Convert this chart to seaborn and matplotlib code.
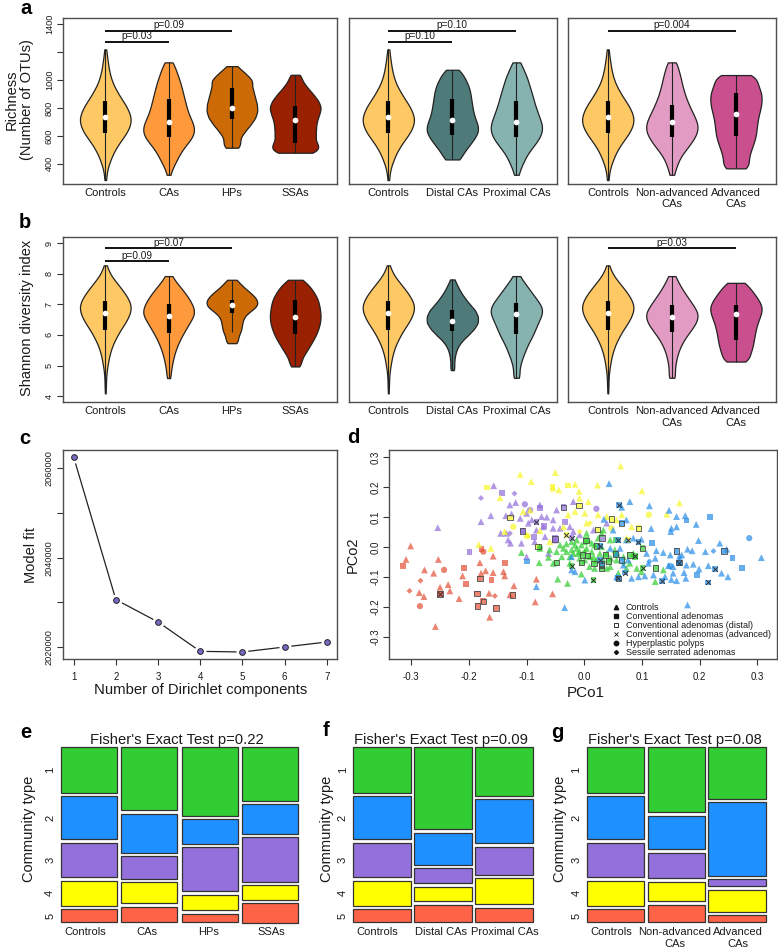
import numpy as np
import pandas as pd
import seaborn as sns
import matplotlib.pyplot as plt
from matplotlib.lines import Line2D

# violin profiles: value levels, relative density at each level
rich_controls_levels = [283, 320, 370, 420, 470, 520, 570, 620, 670, 720, 770, 820, 870, 920, 970, 1020, 1070, 1120, 1170, 1220]
rich_controls_counts = [2, 3, 7, 14, 22, 33, 47, 62, 72, 76, 70, 60, 46, 34, 23, 16, 11, 8, 5, 3]
rich_cas_levels = [321, 380, 430, 480, 530, 580, 630, 680, 730, 780, 830, 880, 930, 980, 1030, 1080, 1127]
rich_cas_counts = [6, 14, 24, 34, 48, 66, 75, 72, 62, 54, 49, 44, 39, 34, 27, 20, 11]
rich_hps_levels = [515, 540, 580, 630, 680, 730, 780, 830, 880, 930, 980, 1020, 1060, 1100]
rich_hps_counts = [14, 16, 22, 38, 55, 70, 76, 74, 68, 63, 56, 42, 28, 12]
rich_ssas_levels = [479, 510, 550, 600, 650, 700, 750, 800, 850, 900, 950, 1000, 1038]
rich_ssas_counts = [42, 50, 57, 60, 60, 62, 69, 76, 68, 52, 34, 18, 11]
rich_distal_levels = [431, 480, 530, 580, 630, 680, 730, 780, 830, 880, 930, 980, 1030, 1074]
rich_distal_counts = [22, 32, 48, 63, 75, 73, 64, 59, 56, 53, 50, 43, 32, 16]
rich_proximal_levels = [321, 380, 430, 480, 530, 580, 630, 680, 730, 780, 830, 880, 930, 980, 1030, 1080, 1127]
rich_proximal_counts = [8, 15, 23, 34, 50, 65, 74, 74, 66, 59, 52, 47, 41, 35, 29, 19, 11]
rich_nonadv_levels = [321, 380, 430, 480, 530, 580, 630, 680, 730, 780, 830, 880, 930, 980, 1030, 1080, 1127]
rich_nonadv_counts = [8, 14, 20, 33, 49, 63, 73, 74, 66, 56, 47, 39, 33, 28, 24, 18, 12]
rich_adv_levels = [367, 400, 450, 500, 550, 600, 650, 700, 750, 800, 850, 900, 950, 1000, 1036]
rich_adv_counts = [28, 32, 38, 44, 52, 58, 60, 62, 66, 72, 75, 75, 67, 55, 42]

shan_controls_levels = [4.09, 4.3, 4.5, 4.7, 4.9, 5.1, 5.3, 5.5, 5.7, 5.9, 6.1, 6.3, 6.5, 6.7, 6.9, 7.1, 7.3, 7.5, 7.7, 7.9, 8.1, 8.27]
shan_controls_counts = [1, 2, 2, 3, 5, 8, 11, 16, 22, 31, 40, 52, 63, 71, 75, 70, 60, 47, 33, 19, 9, 3]
shan_cas_levels = [4.59, 4.7, 4.9, 5.1, 5.3, 5.5, 5.7, 5.9, 6.1, 6.3, 6.5, 6.7, 6.9, 7.1, 7.3, 7.5, 7.7, 7.92]
shan_cas_counts = [3, 5, 8, 11, 15, 20, 27, 35, 45, 55, 66, 75, 72, 63, 52, 38, 24, 12]
shan_hps_levels = [5.73, 5.85, 6.0, 6.15, 6.3, 6.45, 6.6, 6.75, 6.9, 7.05, 7.2, 7.35, 7.5, 7.65, 7.8]
shan_hps_counts = [13, 16, 21, 27, 29, 31, 36, 50, 70, 76, 70, 57, 40, 26, 14]
shan_ssas_levels = [4.97, 5.05, 5.2, 5.4, 5.6, 5.8, 6.0, 6.2, 6.4, 6.6, 6.8, 7.0, 7.2, 7.4, 7.6, 7.8]
shan_ssas_counts = [8, 10, 17, 30, 41, 52, 62, 69, 74, 76, 74, 71, 66, 55, 43, 22]
shan_distal_levels = [4.85, 5.0, 5.2, 5.4, 5.6, 5.8, 6.0, 6.2, 6.4, 6.6, 6.8, 7.0, 7.2, 7.4, 7.6, 7.81]
shan_distal_counts = [4, 5, 6, 9, 15, 27, 46, 63, 74, 74, 66, 50, 36, 24, 15, 7]
shan_proximal_levels = [4.6, 4.7, 4.9, 5.1, 5.3, 5.5, 5.7, 5.9, 6.1, 6.3, 6.5, 6.7, 6.9, 7.1, 7.3, 7.5, 7.7, 7.92]
shan_proximal_counts = [6, 7, 9, 13, 19, 26, 33, 43, 51, 58, 66, 74, 74, 62, 49, 36, 24, 12]
shan_nonadv_levels = [4.6, 4.7, 4.9, 5.1, 5.3, 5.5, 5.7, 5.9, 6.1, 6.3, 6.5, 6.7, 6.9, 7.1, 7.3, 7.5, 7.7, 7.92]
shan_nonadv_counts = [6, 7, 9, 11, 15, 20, 28, 38, 51, 64, 73, 75, 65, 53, 41, 29, 20, 12]
shan_adv_levels = [5.13, 5.3, 5.5, 5.7, 5.9, 6.1, 6.3, 6.5, 6.7, 6.9, 7.1, 7.3, 7.5, 7.7]
shan_adv_counts = [28, 37, 45, 49, 52, 55, 59, 65, 72, 75, 67, 55, 42, 27]

# whisker low, q1, median, q3, whisker high
rich_controls_box = [283, 622, 733, 849, 1220]
rich_cas_box = [321, 594, 701, 861, 1127]
rich_hps_box = [515, 718, 799, 943, 1100]
rich_ssas_box = [479, 551, 715, 813, 1038]
rich_distal_box = [431, 606, 711, 864, 1074]
rich_proximal_box = [321, 594, 701, 852, 1127]
rich_nonadv_box = [321, 594, 701, 821, 1127]
rich_adv_box = [367, 601, 754, 907, 1036]
shan_controls_box = [4.09, 6.16, 6.73, 7.12, 8.27]
shan_cas_box = [4.59, 6.07, 6.63, 7.0, 7.92]
shan_hps_box = [6.09, 6.71, 6.98, 7.13, 7.8]
shan_ssas_box = [4.97, 6.04, 6.58, 7.13, 7.8]
shan_distal_box = [4.85, 6.14, 6.47, 6.8, 7.81]
shan_proximal_box = [4.6, 6.04, 6.68, 7.04, 7.92]
shan_nonadv_box = [4.6, 6.09, 6.58, 6.99, 7.92]
shan_adv_box = [5.13, 5.84, 6.69, 6.97, 7.7]

colors = {'Controls': '#FEC864', 'CAs': '#FE9A3B', 'HPs': '#CC6A05', 'SSAs': '#992000',
          'Distal CAs': '#4F7A7A', 'Proximal CAs': '#86B2B0',
          'Non-advanced\nCAs': '#E29CC3', 'Advanced\nCAs': '#C94F8E'}

# panel c
dirichlet_k = [1, 2, 3, 4, 5, 6, 7]
model_fit = [2062460, 2030600, 2025600, 2019030, 2018880, 2020000, 2021120]

# panel d, (PCo1, PCo2) by community type and marker
red_tri = [(-.301, .004), (-.309, -.041), (-.277, -.076), (-.261, -.087), (-.253, -.041), (-.286, -.152), (-.278, -.165),
           (-.25, -.134), (-.236, -.125), (-.233, -.146), (-.217, -.172), (-.258, -.265), (-.181, -.052), (-.179, -.087),
           (-.171, -.079), (-.211, -.096), (-.158, -.085), (-.158, -.03), (-.14, -.082), (-.138, -.096), (-.122, -.129),
           (-.165, -.154), (-.083, -.107), (-.085, -.183), (-.055, -.156), (-.164, -.234), (-.129, -.159)]
red_sq = [(-.314, -.063), (-.209, -.07), (-.205, -.124), (-.161, -.11), (-.138, -.052), (-.178, -.006)]
red_open = [(-.181, -.105), (-.186, -.155), (-.175, -.181), (-.185, -.197), (-.153, -.203), (-.124, -.16), (-.25, -.157)]
red_x = [(-.25, -.157)]
red_circ = [(-.243, -.076), (-.285, -.197), (-.175, -.015)]
red_dia = [(-.284, -.112), (-.303, -.146), (-.155, -.163)]

purple_tri = [(-.254, .065), (-.157, .205), (-.179, .085), (-.162, .105), (-.136, .105), (-.129, .141), (-.119, .149),
              (-.126, .111), (-.145, .046), (-.135, .046), (-.132, .024), (-.128, .013), (-.111, .096), (-.1, .113),
              (-.091, .091), (-.077, .141), (-.074, .102), (-.065, .1), (-.054, .091), (-.048, .124), (-.1, -.032),
              (-.083, .057), (-.097, .08), (-.086, .018), (-.054, .063), (-.042, .063), (-.068, .035), (-.051, .024),
              (-.025, .068), (-.019, .152), (-.019, .052), (-.008, .041), (.016, .057), (-.071, .068), (-.109, .013),
              (-.062, -.021), (.039, .08)]
purple_sq = [(-.199, -.015), (-.143, .182), (-.107, .054), (-.07, .071), (-.077, .13), (-.087, .033), (-.051, .03), (-.034, .085)]
purple_open = [(-.036, .133), (-.107, .054), (-.051, .027), (.031, .03)]
purple_x = [(-.083, .083), (-.022, .03)]
purple_circ = [(-.103, .143), (.021, .128), (-.094, .124)]
purple_dia = [(-.179, .164), (-.121, .179), (-.129, .046)]

yellow_tri = [(-.111, .243), (-.092, .219), (-.05, .249), (.063, .271), (-.016, .21), (.023, .207), (.1, .188), (.165, .148),
              (-.044, .191), (-.054, .197), (-.009, .186), (-.008, .163), (-.146, .165), (-.106, .119), (-.094, .124),
              (-.183, .009), (-.162, -.004), (-.138, .052), (.001, .113), (.024, .108), (.007, .152), (-.028, .108),
              (-.016, .119), (.039, .102), (.065, .108), (.082, .068), (.073, .03), (-.077, .055), (-.1, .041), (-.06, .018),
              (-.036, .068), (.004, .08), (.056, .091), (.143, .11)]
yellow_sq = [(-.168, .199), (-.028, .206), (-.055, .2)]
yellow_open = [(-.129, .099), (-.009, .139), (.047, .094), (.094, .063), (.023, .058), (-.08, .002)]
yellow_x = [(.075, .024), (-.031, .041)]
yellow_circ = [(.112, .108), (-.123, .068), (.047, .063), (-.098, .037)]
yellow_dia = [(-.008, .052), (.01, .08)]

green_tri = [(-.042, .007), (-.031, .011), (-.022, .018), (-.013, -.004), (.001, .018), (.013, .013), (.024, .03), (.03, .046),
             (.045, .024), (-.008, -.015), (-.019, -.021), (-.031, -.015), (-.048, -.015), (-.06, -.009), (-.077, -.004),
             (-.078, -.052), (-.109, -.018), (-.054, -.054), (-.046, -.107), (-.029, -.121), (-.005, -.09), (.009, -.065),
             (.018, -.071), (.033, -.043), (.045, -.065), (.056, -.043), (.068, -.032), (.079, -.054), (.091, -.071),
             (.099, -.082), (.123, -.115), (.137, -.076), (-.008, -.037), (-.025, -.032), (.001, -.043), (.013, -.015),
             (.021, -.043), (.039, -.021), (.053, -.009), (.085, -.021), (-.036, -.004), (-.013, .024), (.004, -.004),
             (.016, -.032), (-.025, -.054), (-.062, -.034), (.004, .046), (.033, .057), (.03, .002), (.059, -.087),
             (-.016, .007), (-.005, .007), (.007, .024), (.018, .007), (-.022, -.009), (-.011, -.021), (.01, -.032),
             (.027, -.021), (.046, -.037), (.073, -.071), (.039, -.071), (-.039, -.032)]
green_sq = [(.055, .024), (.088, -.034)]
green_open = [(-.003, -.026), (.006, -.028), (-.005, -.052), (.017, -.054), (.037, -.026), (.042, -.046), (.054, -.023),
              (.079, -.026), (.101, -.004), (.124, -.069), (-.048, -.052), (.03, -.062), (.021, .004), (.03, -.071), (.003, .023)]
green_x = [(-.022, -.062), (.016, -.11), (.088, -.03), (.101, -.07)]
green_circ = [(-.077, -.002), (.056, -.026)]
green_dia = [(.001, -.015), (.068, -.054)]

blue_tri = [(.043, .212), (.065, .133), (.079, .152), (.113, .138), (.147, .123), (.16, .102), (.175, .105), (.194, .076),
            (.151, .063), (.16, .068), (.15, .052), (.116, .062), (.034, .093), (.073, .091), (.198, .022), (.235, .013),
            (.247, -.007), (.307, -.035), (.179, -.007), (.187, -.012), (.21, -.015), (.177, -.06), (.215, -.062),
            (.199, -.073), (.189, -.057), (.173, -.085), (.176, -.104), (.238, -.087), (.249, -.099), (.149, -.026),
            (.165, -.03), (.169, -.026), (.137, -.018), (.125, -.012), (.108, -.021), (.154, -.065), (.146, -.062),
            (.151, -.108), (.16, -.112), (.12, -.093), (.105, -.096), (.094, -.099), (.082, -.104), (.001, -.11),
            (-.016, -.082), (-.022, -.076), (-.034, -.202), (-.083, -.132), (.179, -.193), (.045, -.004), (.062, -.004),
            (.056, -.021), (.076, -.043), (.068, -.06), (.056, -.099), (.085, .03), (.099, .026), (.111, -.054),
            (.123, -.037), (.165, -.043), (-.022, -.032), (.073, .024), (.05, .057), (.154, -.087), (.14, -.099)]
blue_sq = [(.177, .089), (.218, .101), (.196, -.094), (.257, -.037), (.273, -.069), (.117, .015), (-.099, -.048)]
blue_open = [(.16, -.013), (.242, -.013), (.164, -.052), (.065, .08), (.065, -.043), (.059, -.104), (.03, -.056)]
blue_x = [(.06, .14), (.227, -.072), (.215, -.118), (.135, -.112), (.071, -.085), (.027, -.043), (.059, .024), (.027, .004),
          (.094, .018), (.164, -.052), (.059, -.104)]
blue_circ = [(.286, .03), (.149, -.063)]
blue_dia = [(.224, -.013), (.113, -.048)]

legend_labels = ['Controls', 'Conventional adenomas', 'Conventional adenomas (distal)',
                 'Conventional adenomas (advanced)', 'Hyperplastic polyps', 'Sessile serrated adenomas']

# panels e-g, share of each community type (percent), types 1-5
comm_controls = [28.2, 26.8, 21.4, 15.3, 8.2]
comm_cas = [39.1, 24.2, 13.8, 13.2, 9.7]
comm_hps = [42.5, 15.1, 27.4, 9.7, 5.2]
comm_ssas = [33.4, 18.3, 27.4, 9.2, 11.9]
comm_distal = [50.8, 20.0, 9.3, 9.1, 10.9]
comm_proximal = [30.1, 27.4, 17.3, 16.1, 9.1]
comm_nonadv = [40.3, 20.8, 15.8, 12.3, 10.7]
comm_adv = [32.0, 45.4, 4.5, 13.6, 4.5]
comm_colors = ['#32CD32', '#1E90FF', '#9370DB', '#FFFF00', '#FF6347']

sns.set_theme(style='ticks')
plt.rcParams['font.family'] = ['Liberation Sans', 'DejaVu Sans']
plt.rcParams['axes.unicode_minus'] = False
plt.rcParams['axes.edgecolor'] = '#4d4d4d'
plt.rcParams['axes.linewidth'] = 1.0
plt.rcParams['xtick.color'] = '#333333'
plt.rcParams['ytick.color'] = '#333333'
plt.rcParams['text.color'] = '#1a1a1a'
plt.rcParams['xtick.labelcolor'] = '#1a1a1a'
plt.rcParams['ytick.labelcolor'] = '#1a1a1a'

W, H = 778, 952
fig = plt.figure(figsize=(W / 100, H / 100), dpi=100)


def box(left, top, right, bottom):
    return fig.add_axes([left / W, 1 - bottom / H, (right - left) / W, (bottom - top) / H])


def label(x, y, s, size=10.5, **kw):
    fig.text(x / W, 1 - y / H, s, fontsize=size, ha='center', va='center', **kw)


def rotate_y(ax, size=6.6):
    ax.tick_params(axis='y', length=4, width=0.8, pad=2.5, labelsize=size, labelrotation=90)
    for t in ax.get_yticklabels():
        t.set_va('center')


def violins(ax, names, levels, counts, boxes, xlim, ylim, yticks, ylabels):
    df = pd.DataFrame({'group': np.concatenate([np.repeat(n, sum(c)) for n, c in zip(names, counts)]),
                       'value': np.concatenate([np.repeat(v, c) for v, c in zip(levels, counts)])})
    sns.violinplot(data=df, x='group', y='value', hue='group', order=names, hue_order=names, palette=colors,
                   legend=False, saturation=1, cut=0, bw_method=0.2, density_norm='width', width=0.8,
                   linewidth=0.9, linecolor='#222222', inner=None, ax=ax)
    pos = list(range(len(names)))
    ax.vlines(pos, [b[0] for b in boxes], [b[4] for b in boxes], color='#222222', lw=0.8, zorder=3)
    ax.vlines(pos, [b[1] for b in boxes], [b[3] for b in boxes], color='black', lw=3.0, zorder=4)
    sns.scatterplot(x=pos, y=[b[2] for b in boxes], color='white', s=17, linewidth=0, zorder=6, ax=ax, legend=False)
    ax.set_xlim(*xlim)
    ax.set_ylim(*ylim)
    ax.set_xlabel('')
    ax.set_ylabel('')
    ax.set_yticks(yticks, ylabels)
    ax.tick_params(axis='x', length=0, pad=3, labelsize=8)
    rotate_y(ax)


def pbar(ax, x0, x1, y, ytext, s):
    ax.plot([x0, x1], [y, y], color='#111111', lw=1.4, solid_capstyle='butt')
    ax.text((x0 + x1) / 2, ytext, s, fontsize=7.2, ha='center', va='center')


rich_ticks = [400, 600, 800, 1000, 1200, 1400]
rich_labels = ['400', '600', '800', '1000', '', '1400']
shan_ticks = [4, 5, 6, 7, 8, 9]
shan_labels = ['4', '5', '6', '7', '8', '9']
rich_lim = (257, 1443)
shan_lim = (3.8, 9.196)

names_a = ['Controls', 'CAs', 'HPs', 'SSAs']
names_b = ['Controls', 'Distal CAs', 'Proximal CAs']
names_c = ['Controls', 'Non-advanced\nCAs', 'Advanced\nCAs']

# panel a
ax = box(63, 18.3, 337, 183.7)
violins(ax, names_a, [rich_controls_levels, rich_cas_levels, rich_hps_levels, rich_ssas_levels],
        [rich_controls_counts, rich_cas_counts, rich_hps_counts, rich_ssas_counts],
        [rich_controls_box, rich_cas_box, rich_hps_box, rich_ssas_box], (-0.668, 3.66), rich_lim, rich_ticks, rich_labels)
pbar(ax, 0, 1, 1272, 1318, 'p=0.03')
pbar(ax, 0, 2, 1353, 1394, 'p=0.09')
ax = box(349, 18.3, 556.7, 183.7)
violins(ax, names_b, [rich_controls_levels, rich_distal_levels, rich_proximal_levels],
        [rich_controls_counts, rich_distal_counts, rich_proximal_counts],
        [rich_controls_box, rich_distal_box, rich_proximal_box], (-0.614, 2.63), rich_lim, rich_ticks, rich_labels)
ax.set_yticks([])
pbar(ax, 0, 1, 1272, 1318, 'p=0.10')
pbar(ax, 0, 2, 1353, 1394, 'p=0.10')
ax = box(567.7, 18.3, 776, 183.7)
violins(ax, names_c, [rich_controls_levels, rich_nonadv_levels, rich_adv_levels],
        [rich_controls_counts, rich_nonadv_counts, rich_adv_counts],
        [rich_controls_box, rich_nonadv_box, rich_adv_box], (-0.625, 2.625), rich_lim, rich_ticks, rich_labels)
ax.set_yticks([])
pbar(ax, 0, 2, 1353, 1394, 'p=0.004')

# panel b
ax = box(63, 237, 337, 402.3)
violins(ax, names_a, [shan_controls_levels, shan_cas_levels, shan_hps_levels, shan_ssas_levels],
        [shan_controls_counts, shan_cas_counts, shan_hps_counts, shan_ssas_counts],
        [shan_controls_box, shan_cas_box, shan_hps_box, shan_ssas_box], (-0.668, 3.66), shan_lim, shan_ticks, shan_labels)
pbar(ax, 0, 1, 8.42, 8.59, 'p=0.09')
pbar(ax, 0, 2, 8.83, 8.99, 'p=0.07')
ax = box(349, 237, 556.7, 402.3)
violins(ax, names_b, [shan_controls_levels, shan_distal_levels, shan_proximal_levels],
        [shan_controls_counts, shan_distal_counts, shan_proximal_counts],
        [shan_controls_box, shan_distal_box, shan_proximal_box], (-0.614, 2.63), shan_lim, shan_ticks, shan_labels)
ax.set_yticks([])
ax = box(567.7, 237, 776, 402.3)
violins(ax, names_c, [shan_controls_levels, shan_nonadv_levels, shan_adv_levels],
        [shan_controls_counts, shan_nonadv_counts, shan_adv_counts],
        [shan_controls_box, shan_nonadv_box, shan_adv_box], (-0.625, 2.625), shan_lim, shan_ticks, shan_labels)
ax.set_yticks([])
pbar(ax, 0, 2, 8.83, 8.99, 'p=0.03')

label(19, 100, 'Richness\n(Number of OTUs)', rotation=90, linespacing=1.1)
label(27, 318, 'Shannon diversity index', rotation=90)

# panel c
ax = box(63, 450, 337, 659.3)
sns.lineplot(x=dirichlet_k, y=model_fit, color='#222222', lw=0.9, ax=ax)
sns.scatterplot(x=dirichlet_k, y=model_fit, color='white', s=75, linewidth=0, zorder=3, ax=ax)
sns.scatterplot(x=dirichlet_k, y=model_fit, color='#7A68C4', edgecolor='#222222', s=17, linewidth=0.7, zorder=4, ax=ax)
ax.set_xlim(0.746, 7.244)
ax.set_ylim(2017246, 2064097)
ax.set_yticks([2020000, 2030000, 2040000, 2050000, 2060000], ['2020000', '', '2040000', '', '2060000'])
ax.set_xticks(dirichlet_k)
ax.tick_params(axis='x', length=4.5, width=0.8, pad=5, labelsize=7)
rotate_y(ax)
label(31, 555, 'Model fit', rotation=90)
label(201, 690, 'Number of Dirichlet components', size=10.7)

# panel d
groups_d = {'red': [red_tri, red_sq, red_open, red_x, red_circ, red_dia],
            'purple': [purple_tri, purple_sq, purple_open, purple_x, purple_circ, purple_dia],
            'yellow': [yellow_tri, yellow_sq, yellow_open, yellow_x, yellow_circ, yellow_dia],
            'green': [green_tri, green_sq, green_open, green_x, green_circ, green_dia],
            'blue': [blue_tri, blue_sq, blue_open, blue_x, blue_circ, blue_dia]}
shapes = ['tri', 'sq', 'open', 'x', 'circ', 'dia']
rows = []
for comm, lists in groups_d.items():
    for shape, pts in zip(shapes, lists):
        rows += [(comm, shape, p[0], p[1]) for p in pts]
df_d = pd.DataFrame(rows, columns=['community', 'shape', 'pco1', 'pco2'])
base = df_d.replace({'shape': {'open': 'sq', 'x': 'sq'}})
ax = box(389.3, 450, 776.7, 659.3)
sns.scatterplot(data=base, x='pco1', y='pco2', hue='community', style='shape',
                markers={'tri': '^', 'sq': 's', 'circ': 'o', 'dia': 'D'},
                palette={'red': '#E2543A', 'purple': '#9370DB', 'yellow': '#F7F72A', 'green': '#32CD32', 'blue': '#2B8FE8'},
                size='shape', sizes={'tri': 24, 'sq': 17, 'circ': 20, 'dia': 9}, alpha=0.72, linewidth=0, legend=False, ax=ax)
sns.scatterplot(data=df_d[df_d['shape'] == 'open'], x='pco1', y='pco2', marker='s', facecolor='none',
                edgecolor='#4a4a4a', s=15, linewidth=0.6, ax=ax)
sns.scatterplot(data=df_d[df_d['shape'] == 'x'], x='pco1', y='pco2', marker='x', color='#333333', s=12, linewidth=0.7, ax=ax)
ax.set_xlim(-0.338, 0.3336)
ax.set_ylim(-0.3745, 0.3244)
ax.set_xlabel('')
ax.set_ylabel('')
d_ticks = [-0.3, -0.2, -0.1, 0.0, 0.1, 0.2, 0.3]
d_labels = ['-0.3', '-0.2', '-0.1', '0.0', '0.1', '0.2', '0.3']
ax.set_xticks(d_ticks, d_labels)
ax.set_yticks(d_ticks, d_labels)
ax.tick_params(axis='x', length=4.5, width=0.8, pad=5, labelsize=7)
rotate_y(ax, 7)
handles = [Line2D([], [], ls='', marker='^', color='#111111', ms=3.2),
           Line2D([], [], ls='', marker='s', color='#111111', ms=2.8),
           Line2D([], [], ls='', marker='s', mfc='none', mec='#111111', ms=2.8, mew=0.6),
           Line2D([], [], ls='', marker='x', color='#111111', ms=3.2, mew=0.6),
           Line2D([], [], ls='', marker='o', color='#111111', ms=3.2),
           Line2D([], [], ls='', marker='D', color='#111111', ms=2)]
ax.legend(handles, legend_labels, loc='lower left', bbox_to_anchor=(0.555, -0.012), frameon=False, fontsize=6.5,
          labelspacing=0.0, handletextpad=0.4, borderpad=0, handlelength=1.5, labelcolor='#1a1a1a')
label(353, 555, 'PCo2', rotation=90)
label(586, 693, 'PCo1', size=11)


# panels e-g
def mosaic(ax, names, shares, width, tick_pos, title_x, title):
    gap = 2.06
    bottoms = np.zeros(len(names))
    for i, color in enumerate(comm_colors):
        heights = [s[i] for s in shares]
        sns.barplot(x=names, y=heights, color=color, saturation=1, width=width, bottom=bottoms, edgecolor='#333333',
                    linewidth=0.9, errorbar=None, ax=ax)
        bottoms = bottoms + np.array(heights) + gap
    ax.set_xlim(-width / 2, len(names) - 1 + width / 2)
    ax.set_ylim(100 + 4 * gap, 0)
    centers = np.cumsum([0] + shares[0][:-1]) + np.array(shares[0]) / 2 + gap * np.arange(5)
    ax.set_yticks(centers, ['1', '2', '3', '4', '5'])
    ax.set_xticks(tick_pos, names)
    ax.tick_params(axis='x', length=0, pad=3.5, labelsize=8)
    ax.tick_params(axis='y', length=0, pad=4, labelsize=8, labelrotation=90)
    for t in ax.get_yticklabels():
        t.set_va('center')
    sns.despine(ax=ax, left=True, bottom=True)
    for p in ax.patches:
        p.set_clip_on(False)
    label(title_x, 740, title, size=10.6)


ax = box(60.7, 747, 298, 922.3)
mosaic(ax, names_a, [comm_controls, comm_cas, comm_hps, comm_ssas], 0.926, [-0.055, 0.96, 1.99, 3.017], 177,
       "Fisher's Exact Test p=0.22")
ax = box(353.3, 747, 532.7, 922.3)
mosaic(ax, names_b, [comm_controls, comm_distal, comm_proximal], 0.945, [-0.075, 0.97, 2.015], 441,
       "Fisher's Exact Test p=0.09")
ax = box(587, 747, 765.7, 922.3)
mosaic(ax, names_c, [comm_controls, comm_nonadv, comm_adv], 0.945, [-0.075, 0.97, 2.02], 674.5,
       "Fisher's Exact Test p=0.08")
for x in [29, 327, 560]:
    label(x, 829, 'Community type', rotation=90)

# panel letters
for x, y, s in [(26, 9, 'a'), (25, 223, 'b'), (25, 439, 'c'), (353, 438, 'd'), (26, 733, 'e'), (326, 730, 'f'), (557, 732, 'g')]:
    label(x, y, s, size=14.5, fontweight='bold', color='black')

fig.savefig('out.png', dpi=100)
